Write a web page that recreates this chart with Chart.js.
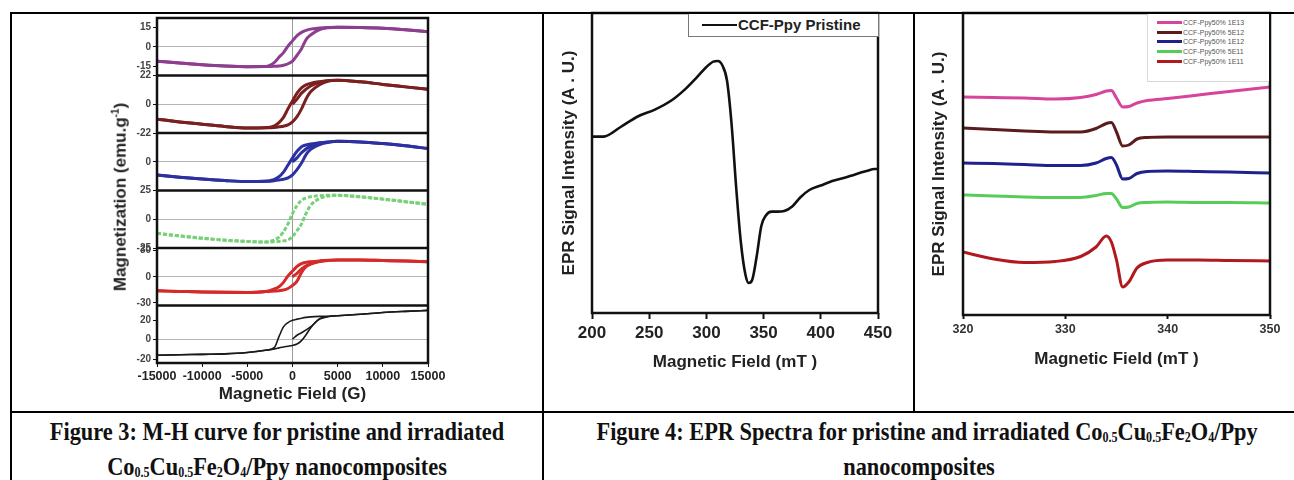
<!doctype html>
<html lang="en">
<head>
<meta charset="utf-8" />
<title>M-H and EPR spectra</title>
<script src="https://cdn.jsdelivr.net/npm/chart.js"></script>
<style>
  body { margin: 0; background: #fff; }
  #page { position: relative; width: 1294px; height: 480px; overflow: hidden; font-family: "Liberation Sans", Arial, sans-serif; }
  canvas { position: absolute; }
  .rule { position: absolute; background: #000; }
  .cap { position: absolute; top: 414px; text-align: center; font-family: "Liberation Serif", "Times New Roman", serif;
         font-weight: bold; font-size: 26px; line-height: 35px; color: #111; }
  .cap div { transform: scaleX(0.86); white-space: nowrap; }
  .cap sub { font-size: 14px; vertical-align: -2px; line-height: 0; }
  #mhTitle { position: absolute; left: 120px; top: 197px; transform: translate(-50%, -50%) rotate(-90deg);
             white-space: nowrap; font-weight: bold; font-size: 17px; color: #222; }
  .legend { position: absolute; background: #fff; }
  .legend .row { display: flex; align-items: center; white-space: nowrap; }
  .legend .swatch { display: inline-block; }
</style>
</head>
<body>
<div id="page">
  <canvas id="chartMH" width="336" height="400" style="left:112px;top:10px"></canvas>
  <canvas id="chartEPR" width="341" height="365" style="left:559px;top:10px"></canvas>
  <canvas id="chartIrr" width="361" height="362" style="left:929px;top:10px"></canvas>

  <div id="mhTitle">Magnetization (emu.g<sup style="font-size:10px">-1</sup>)</div>

  <div class="legend" id="legendEPR" style="left:688px;top:13px;width:189px;height:23px;border:1px solid #777;border-top:none">
  </div>
  <div class="legend" id="legendIrr" style="left:1147px;top:14px;width:121px;height:67px;border:1px solid #d8d8d8;border-top:none;border-right:none">
  </div>

  <div class="rule" style="left:10px;top:12px;width:1284px;height:2px"></div>
  <div class="rule" style="left:10px;top:12px;width:2px;height:468px"></div>
  <div class="rule" style="left:542px;top:12px;width:2px;height:468px"></div>
  <div class="rule" style="left:913px;top:12px;width:2px;height:400px"></div>
  <div class="rule" style="left:10px;top:411px;width:1284px;height:2px"></div>

  <div class="cap" style="left:12px;width:530px">
    <div>Figure 3: M-H curve for pristine and irradiated</div>
    <div>Co<sub>0.5</sub>Cu<sub>0.5</sub>Fe<sub>2</sub>O<sub>4</sub>/Ppy nanocomposites</div>
  </div>
  <div class="cap" style="left:544px;width:750px">
    <div>Figure 4: EPR Spectra for pristine and irradiated Co<sub>0.5</sub>Cu<sub>0.5</sub>Fe<sub>2</sub>O<sub>4</sub>/Ppy</div>
    <div>nanocomposites</div>
  </div>
</div>

<script>
    // ---- Figure 3: M-H loops (six stacked panels, top to bottom) ----
    const mhField = [-15000, -12500, -10000, -7500, -5000, -3000, -2000, -1500, -1000, -500, 0,
        500, 1000, 1500, 2000, 3000, 4000, 5000, 7500, 10000, 12500, 15000];

    const mhUpper = [
        [-11, -12.5, -13.8, -14.8, -15.3, -15.2, -12, -8, -4.5, 0.5, 4.5, 8.5, 11, 12.5, 13.5, 14.3, 14.8, 15, 14.8, 14.2, 13, 11.5],
        [-11.4, -13.5, -15.3, -17, -18.2, -18, -16.5, -14, -10, -3.5, 2.5, 8.5, 12.5, 14.8, 16, 17.3, 18.2, 18.4, 17.2, 15.2, 13.3, 11.4],
        [-10.2, -11.8, -13.2, -14.4, -15.2, -15, -13.5, -11.5, -8, -2.5, 3, 8, 11.5, 12.8, 13.6, 14.6, 15.2, 15.6, 15.2, 13.9, 12.2, 10.1],
        [-12.2, -14.5, -16.5, -18.2, -19.3, -19.8, -18, -15.5, -11, -4, 5, 12, 16.5, 18.5, 19.5, 20.5, 20.8, 20.8, 19.5, 17.5, 15.3, 13],
        [-16.2, -16.8, -17.4, -17.8, -18, -17, -14, -11.5, -6.5, 1, 6.5, 12, 15.2, 16.5, 17.2, 18.2, 18.9, 19.3, 19.2, 18.6, 18, 17.3],
        [-16.1, -15.6, -15.1, -14.6, -13.2, -11, -8, 3, 13, 17.5, 19.8, 21, 22, 22.8, 23.3, 23.8, 24, 24.5, 26, 27.8, 29, 30]
    ];
    const mhLower = [
        [-11, -12.5, -13.8, -14.8, -15.3, -15.2, -15, -14.8, -14.2, -13, -11, -6.5, -1.5, 5.5, 9, 13.2, 14.6, 15, 14.8, 14.2, 13, 11.5],
        [-11.4, -13.5, -15.3, -17, -18.2, -18, -17.7, -17.3, -16.8, -15.8, -13.5, -9.5, -3.5, 4, 9.5, 15, 17.8, 18.4, 17.2, 15.2, 13.3, 11.4],
        [-10.2, -11.8, -13.2, -14.4, -15.2, -15, -14.5, -14, -13.4, -12.3, -10, -6, -1, 5.5, 9.5, 13.2, 15, 15.6, 15.2, 13.9, 12.2, 10.1],
        [-12.2, -14.5, -16.5, -18.2, -19.3, -19.8, -19.6, -19.3, -18.8, -18, -15, -10, -4, 5, 12, 18, 20.2, 20.8, 19.5, 17.5, 15.3, 13],
        [-16.2, -16.8, -17.4, -17.8, -18, -17, -16.5, -16, -15.3, -13.5, -10, -5, 5, 11.5, 14.5, 17.5, 18.8, 19.3, 19.2, 18.6, 18, 17.3],
        [-16.1, -15.6, -15.1, -14.6, -13.2, -11, -9.5, -8.5, -7.5, -6.8, -6, -4.5, -1, 5, 12, 21.5, 23.8, 24.5, 26, 27.8, 29, 30]
    ];

    // initial magnetisation curves
    const mhVirginField = [0, 500, 1000, 2000, 3000, 4000];
    const mhVirgin = [
        null,
        [0, 4, 8.5, 14, 16.8, 18],
        [0, 3, 7, 12, 14.3, 15.2],
        null,
        [0, 4, 9, 15, 17.8, 18.8],
        [0.5, 4.5, 7, 13, 21, 23.8]
    ];

    const mhMin = [-22, -22, -22, -25, -33, -24];
    const mhMax = [22, 22, 22, 25, 33, 35];
    const mhTicksY = [[-15, 0, 15], [-22, 0, 22], [0], [-25, 0, 25], [-30, 0, 30], [-20, 0, 20]];
    const mhTicksX = [-15000, -10000, -5000, 0, 5000, 10000, 15000];
    const mhColors = ['#8d3f8f', '#7a2020', '#2c30a0', '#77d277', '#d42a2a', '#1a1a1a'];

    // ---- Figure 4 (middle): pristine EPR spectrum ----
    const eprField = [200, 210, 225, 240, 255, 270, 282, 292, 300, 306, 310, 314, 318, 322, 326, 330, 334, 337,
        340, 344, 348, 352, 357, 362, 368, 375, 382, 390, 400, 410, 420, 430, 440, 447, 450];
    const eprSignal = [58.8, 58.8, 62, 65.5, 67.8, 71, 74.8, 78.7, 82, 83.8, 84, 82.5, 77.5, 63, 42, 24, 13, 10,
        11, 19, 29, 32.5, 33.8, 33.8, 34, 35.5, 38.5, 41, 42.5, 44, 45, 46.2, 47.3, 48, 48];
    const eprTicksX = [200, 250, 300, 350, 400, 450];

    // ---- Figure 4 (right): irradiated samples, offset spectra ----
    const irrField = [320, 323, 326, 329, 331.5, 333, 334, 334.5, 335, 335.6, 336.2, 337, 338, 340, 343, 346, 350];
    const irr1E13 = [218, 217.5, 217, 216, 217.5, 220.5, 224, 224.5, 217, 208, 208.5, 212, 214.5, 216.5, 220, 223.5, 228];
    const irr5E12 = [187, 185.5, 184, 183, 183, 186.5, 191.5, 192.5, 183, 169, 170, 176, 177.5, 178, 178, 178, 178];
    const irr1E12 = [152, 151.5, 150.5, 149.5, 149.5, 152, 156.5, 157.5, 150, 136, 136.5, 141.5, 143.5, 144, 143.5, 143, 142];
    const irr5E11 = [120, 119, 118, 117.5, 117.5, 119.5, 121.5, 121.5, 116, 107.5, 108, 111.5, 112.5, 113, 112.5, 112.5, 112];
    const irr1E11 = [63, 56, 52.5, 53.5, 58.5, 68, 79, 73, 55, 28, 33, 47, 52.5, 55, 55, 54.5, 54];
    const irrNames = ['CCF-Ppy50% 1E13', 'CCF-Ppy50% 5E12', 'CCF-Ppy50% 1E12', 'CCF-Ppy50% 5E11', 'CCF-Ppy50% 1E11'];
    const irrSeries = [irr1E13, irr5E12, irr1E12, irr5E11, irr1E11];
    const irrColors = ['#d6449c', '#5a1c1c', '#20208f', '#57cc57', '#b2191e'];
    const irrTicksX = [320, 330, 340, 350];

    Chart.defaults.font.family = '"Liberation Sans", Arial, sans-serif';

    function pts(xs, ys) {
        return xs.map((x, i) => ({ x: x, y: ys[i] }));
    }

    function line(data, color, width, extra) {
        return Object.assign({
            data: data, borderColor: color, borderWidth: width, pointRadius: 0,
            fill: false, cubicInterpolationMode: 'monotone'
        }, extra || {});
    }

    // black frame round each plot, plus separators between stacked panels
    const framePlugin = {
        id: 'frame',
        afterDraw(chart) {
            const ctx = chart.ctx;
            const a = chart.chartArea;
            ctx.save();
            ctx.strokeStyle = '#111';
            ctx.lineWidth = 2.5;
            ctx.strokeRect(a.left, a.top, a.right - a.left, a.bottom - a.top);
            for (const s of Object.values(chart.scales)) {
                if (s.options.stack && s.top > a.top + 1) {
                    ctx.beginPath();
                    ctx.moveTo(a.left, s.top);
                    ctx.lineTo(a.right, s.top);
                    ctx.stroke();
                }
            }
            ctx.restore();
        }
    };

    const boldTick = (size) => ({ size: size, weight: 'bold' });
    const titleFont = { size: 17, weight: 'bold' };

    // ---- M-H chart ----
    const mhDatasets = [];
    const mhScales = {
        x: {
            type: 'linear', min: -15000, max: 15000,
            afterBuildTicks: s => { s.ticks = mhTicksX.map(v => ({ value: v })); },
            ticks: { font: boldTick(12.5), color: '#222', padding: 2, maxRotation: 0, callback: v => String(v) },
            grid: { color: c => (c.tick && c.tick.value === 0) ? '#9a9a9a' : 'rgba(0,0,0,0)', tickColor: '#111', tickLength: 4 },
            border: { display: false },
            title: { display: true, text: 'Magnetic Field (G)', font: titleFont, color: '#222', padding: { top: 0, bottom: 5 } },
            afterFit: s => { s.height = 47; }
        }
    };
    // left-side stacked scales are laid out last-defined on top, so add them bottom panel first
    for (let i = 5; i >= 0; i--) {
        const id = 'y' + (i + 1);
        mhScales[id] = {
            type: 'linear', position: 'left', stack: 'mh', stackWeight: 1,
            min: mhMin[i], max: mhMax[i],
            afterBuildTicks: s => { s.ticks = mhTicksY[i].map(v => ({ value: v })); },
            ticks: { font: boldTick(10), color: '#444', padding: 2, callback: v => String(v) },
            grid: { color: c => (c.tick && c.tick.value === 0) ? '#b4b4b4' : 'rgba(0,0,0,0)', tickColor: '#111', tickLength: 4 },
            border: { color: '#111', width: 2 },
            afterFit: s => { s.width = 45; }
        };
    }
    for (let i = 0; i < 6; i++) {
        const id = 'y' + (i + 1);
        const branches = [mhUpper[i], mhLower[i]];
        const curves = branches.map(b => pts(mhField, b));
        if (mhVirgin[i]) curves.push(pts(mhVirginField, mhVirgin[i]));
        for (const c of curves) {
            if (i === 3) {
                mhDatasets.push(line(c, mhColors[i], 3, { yAxisID: id, borderDash: [4, 2] }));
                mhDatasets.push(line(c, 'rgba(60,140,60,0.6)', 1, { yAxisID: id, borderDash: [3, 3] }));
            } else if (i === 5) {
                mhDatasets.push(line(c, mhColors[i], 1.6, { yAxisID: id }));
            } else {
                mhDatasets.push(line(c, mhColors[i], 3, { yAxisID: id }));
                mhDatasets.push(line(c, 'rgba(45,45,45,0.75)', 1, { yAxisID: id }));
            }
        }
    }

    new Chart(document.getElementById('chartMH'), {
        type: 'line',
        data: { datasets: mhDatasets },
        options: {
            responsive: false, animation: false,
            layout: { padding: { top: 3, right: 20, left: 0, bottom: 0 } },
            plugins: { legend: { display: false }, tooltip: { enabled: false } },
            scales: mhScales
        },
        plugins: [framePlugin]
    });

    // ---- pristine EPR chart ----
    new Chart(document.getElementById('chartEPR'), {
        type: 'line',
        data: { datasets: [line(pts(eprField, eprSignal), '#111', 2.6)] },
        options: {
            responsive: false, animation: false,
            layout: { padding: { top: 3, right: 22, left: 0, bottom: 0 } },
            plugins: { legend: { display: false }, tooltip: { enabled: false } },
            scales: {
                x: {
                    type: 'linear', min: 200, max: 450,
                    afterBuildTicks: s => { s.ticks = eprTicksX.map(v => ({ value: v })); },
                    ticks: { font: boldTick(17), color: '#222', padding: 4, maxRotation: 0 },
                    grid: { display: true, drawOnChartArea: false, tickColor: '#111', tickLength: 6, tickWidth: 2 },
                    border: { display: false },
                    title: { display: true, text: 'Magnetic Field (mT )', font: titleFont, color: '#222', padding: { top: 0, bottom: 2 } },
                    afterFit: s => { s.height = 62; }
                },
                y: {
                    min: 0, max: 100,
                    ticks: { display: false },
                    grid: { display: false },
                    border: { display: false },
                    title: { display: true, text: 'EPR Signal Intensity (A . U.)', font: titleFont, color: '#222', padding: { top: 0, bottom: 0 } },
                    afterFit: s => { s.width = 33; }
                }
            }
        },
        plugins: [framePlugin]
    });

    // ---- irradiated EPR chart ----
    new Chart(document.getElementById('chartIrr'), {
        type: 'line',
        data: { datasets: irrSeries.map((s, i) => line(pts(irrField, s), irrColors[i], 3)) },
        options: {
            responsive: false, animation: false,
            layout: { padding: { top: 3, right: 20, left: 0, bottom: 0 } },
            plugins: { legend: { display: false }, tooltip: { enabled: false } },
            scales: {
                x: {
                    type: 'linear', min: 320, max: 350,
                    afterBuildTicks: s => { s.ticks = irrTicksX.map(v => ({ value: v })); },
                    ticks: { font: boldTick(12.5), color: '#333', padding: 3, maxRotation: 0 },
                    grid: { display: true, drawOnChartArea: false, tickColor: '#111', tickLength: 4, tickWidth: 2 },
                    border: { display: false },
                    title: { display: true, text: 'Magnetic Field (mT )', font: titleFont, color: '#222', padding: { top: 0, bottom: 2 } },
                    afterFit: s => { s.height = 57; }
                },
                y: {
                    min: 0, max: 302,
                    ticks: { display: false },
                    grid: { display: false },
                    border: { display: false },
                    title: { display: true, text: 'EPR Signal Intensity (A . U.)', font: titleFont, color: '#222', padding: { top: 0, bottom: 0 } },
                    afterFit: s => { s.width = 34; }
                }
            }
        },
        plugins: [framePlugin]
    });

    // ---- HTML legends ----
    const legEPR = document.getElementById('legendEPR');
    legEPR.innerHTML = '<div class="row" style="height:23px;padding-left:13px">' +
        '<span class="swatch" style="width:35px;height:2px;background:#111"></span>' +
        '<span style="font-weight:bold;font-size:15px;color:#222;margin-left:1px">CCF-Ppy Pristine</span></div>';

    const legIrr = document.getElementById('legendIrr');
    let rows = '<div style="height:4px"></div>';
    irrNames.forEach((name, i) => {
        rows += '<div class="row" style="height:9.6px;padding-left:9px">' +
            '<span class="swatch" style="width:25px;height:3px;background:' + irrColors[i] + '"></span>' +
            '<span style="font-size:7px;color:#555;margin-left:1px">' + name + '</span></div>';
    });
    legIrr.innerHTML = rows;
</script>
</body>
</html>
